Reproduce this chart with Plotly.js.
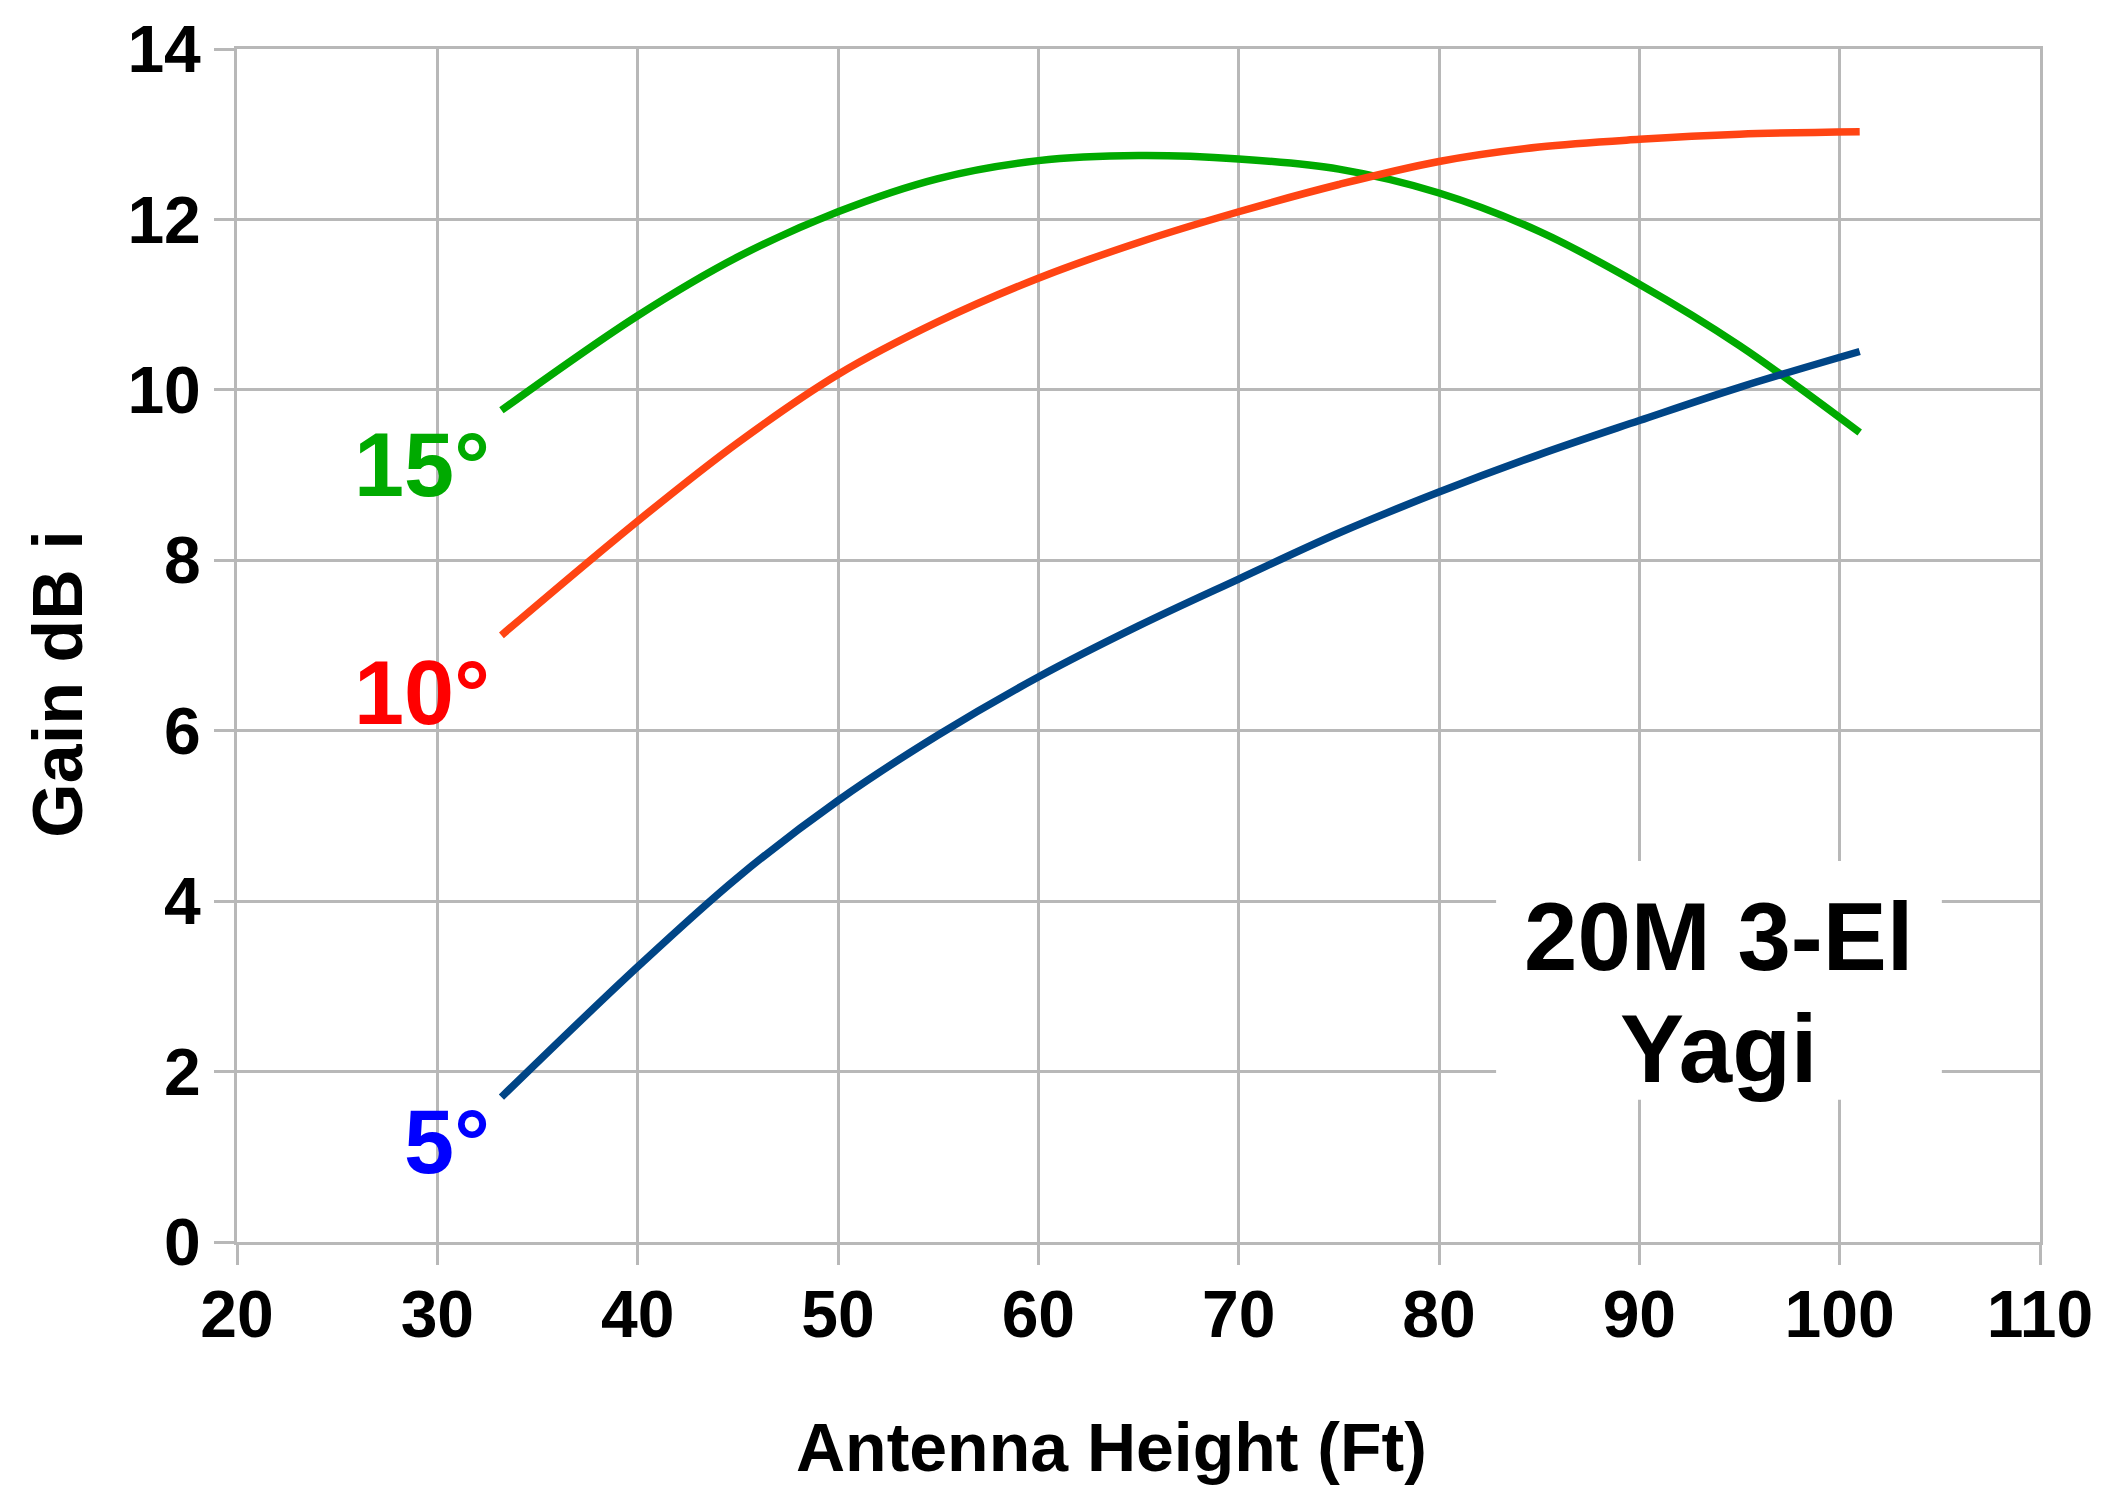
<!DOCTYPE html>
<html>
<head>
<meta charset="utf-8">
<script src="https://cdn.plot.ly/plotly-3.0.1.min.js"></script>
<style>
  html, body { margin: 0; padding: 0; background: #ffffff; }
  #chart { width: 2114px; height: 1487px; }
</style>
</head>
<body>
<div id="chart"></div>
<script>
// Antenna height (ft)
const heights = [33.2, 40, 45, 50, 55, 60, 65, 70, 75, 80, 85, 90, 95, 101];
// Gain (dBi) at each takeoff angle
const gain15 = [9.76, 10.87, 11.56, 12.09, 12.48, 12.69, 12.75, 12.71, 12.59, 12.31, 11.86, 11.24, 10.52, 9.50];
const gain10 = [7.12, 8.46, 9.38, 10.18, 10.80, 11.31, 11.73, 12.09, 12.41, 12.68, 12.85, 12.94, 13.00, 13.03];
const gain5  = [1.70, 3.23, 4.28, 5.18, 5.95, 6.63, 7.23, 7.78, 8.32, 8.80, 9.24, 9.64, 10.03, 10.45];

const seriesNames = ['15°', '10°', '5°'];
const xTicks = [20, 30, 40, 50, 60, 70, 80, 90, 100, 110];
const yTicks = [0, 2, 4, 6, 8, 10, 12, 14];
const xTitle = 'Antenna Height (Ft)';
const yTitle = 'Gain dB i';
const boxLine1 = '20M 3-El';
const boxLine2 = 'Yagi';

const FONT = 'Liberation Sans, Arial, sans-serif';
const GRID = '#b8b8b8';

const lineStyle = (c) => ({color: c, width: 7.5, shape: 'spline', smoothing: 1});
const traces = [
  {x: heights, y: gain15, name: seriesNames[0], mode: 'lines', line: lineStyle('#00aa00')},
  {x: heights, y: gain10, name: seriesNames[1], mode: 'lines', line: lineStyle('#ff4413')},
  {x: heights, y: gain5,  name: seriesNames[2], mode: 'lines', line: lineStyle('#004586')}
];

const axisCommon = {
  showgrid: true, gridcolor: GRID, gridwidth: 3,
  showline: true, linecolor: GRID, linewidth: 3, mirror: true,
  zeroline: false,
  ticks: 'outside', ticklen: 20, tickwidth: 3, tickcolor: GRID,
  tickfont: {family: FONT, size: 66, color: '#000000', weight: 'bold'}
};

const layout = {
  width: 2114, height: 1487,
  paper_bgcolor: '#ffffff', plot_bgcolor: '#ffffff',
  margin: {l: 237, r: 74, t: 49, b: 245},
  showlegend: false,
  xaxis: Object.assign({}, axisCommon, {
    range: [20, 110], tickvals: xTicks, ticktext: xTicks.map(String),
    ticklabelstandoff: -7
  }),
  yaxis: Object.assign({}, axisCommon, {
    range: [0, 14], tickvals: yTicks, ticktext: yTicks.map(String),
    ticklabelstandoff: 0
  }),
  shapes: [
    {type: 'rect', xref: 'x', yref: 'y', x0: 82.85, x1: 105.1, y0: 1.67, y1: 4.47,
     fillcolor: '#ffffff', line: {width: 0}, layer: 'above'}
  ],
  annotations: [
    {xref: 'paper', yref: 'paper', x: 0.4853, y: -0.1718, xanchor: 'center', yanchor: 'middle',
     text: xTitle, showarrow: false,
     font: {family: FONT, size: 68, color: '#000000', weight: 'bold'}},
    {xref: 'paper', yref: 'paper', x: -0.0995, y: 0.4677, xanchor: 'center', yanchor: 'middle',
     text: yTitle, showarrow: false, textangle: -90,
     font: {family: FONT, size: 70, color: '#000000', weight: 'bold'}},
    {xref: 'x', yref: 'y', x: 32.75, y: 9.12, xanchor: 'right', yanchor: 'middle',
     text: seriesNames[0], showarrow: false,
     font: {family: FONT, size: 90, color: '#00aa00', weight: 'bold'}},
    {xref: 'x', yref: 'y', x: 32.75, y: 6.44, xanchor: 'right', yanchor: 'middle',
     text: seriesNames[1], showarrow: false,
     font: {family: FONT, size: 90, color: '#ff0000', weight: 'bold'}},
    {xref: 'x', yref: 'y', x: 32.75, y: 1.17, xanchor: 'right', yanchor: 'middle',
     text: seriesNames[2], showarrow: false,
     font: {family: FONT, size: 90, color: '#0000ff', weight: 'bold'}},
    {xref: 'x', yref: 'y', x: 93.95, y: 3.58, xanchor: 'center', yanchor: 'middle',
     text: boxLine1, showarrow: false,
     font: {family: FONT, size: 96, color: '#000000', weight: 'bold'}},
    {xref: 'x', yref: 'y', x: 93.95, y: 2.27, xanchor: 'center', yanchor: 'middle',
     text: boxLine2, showarrow: false,
     font: {family: FONT, size: 96, color: '#000000', weight: 'bold'}}
  ]
};

Plotly.newPlot('chart', traces, layout, {displayModeBar: false, staticPlot: true});
</script>
</body>
</html>
